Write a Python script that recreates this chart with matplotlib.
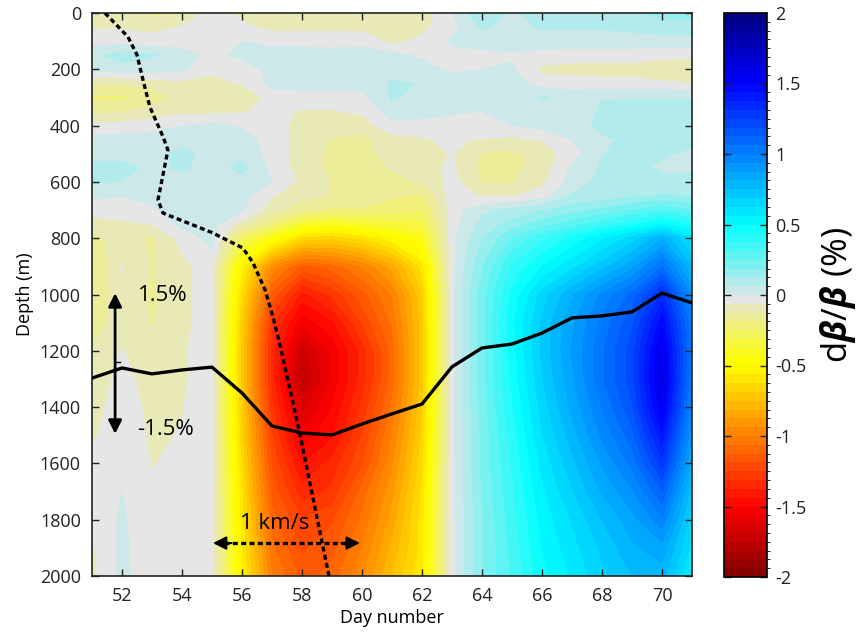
import numpy as np
import matplotlib
matplotlib.use("Agg")
import matplotlib.pyplot as plt
from matplotlib.colors import ListedColormap, BoundaryNorm

plt.rcParams['font.family'] = ['Open Sans', 'DejaVu Sans']
plt.rcParams['axes.unicode_minus'] = False
plt.rcParams['mathtext.fontset'] = 'custom'
plt.rcParams['mathtext.rm'] = 'Open Sans'
plt.rcParams['mathtext.it'] = 'Open Sans:italic'
plt.rcParams['mathtext.bf'] = 'Open Sans:bold:italic'

# ---------------- data ----------------
days = np.arange(51, 72)  # 51..71
depths = [0, 50, 100, 150, 200, 250, 300, 350, 400, 450, 500, 550, 600, 650, 700, 750,
          800, 900, 1000, 1100, 1200, 1300, 1400, 1500, 1600, 1700, 1800, 1900, 2000]

# dbeta/beta (%) field, one row per depth, columns = days 51..71
dbb = [
    [-0.09, -0.10, -0.14, -0.13, -0.03, -0.08, -0.09, -0.09, -0.13, -0.09, -0.12, -0.10, 0.00, 0.12, 0.05, 0.09, 0.09, 0.10, 0.11, 0.14, 0.14],
    [-0.07, -0.07, -0.08, -0.06, -0.03, -0.05, -0.08, -0.08, -0.08, -0.08, -0.09, -0.08, -0.02, 0.07, 0.04, 0.07, 0.07, 0.07, 0.08, 0.10, 0.10],
    [-0.02, -0.03, -0.04, -0.03, -0.02, 0.00, -0.02, -0.02, -0.03, -0.02, -0.08, -0.05, 0.01, 0.03, 0.03, 0.03, 0.03, 0.03, 0.03, 0.03, 0.03],
    [0.04, 0.10, 0.07, 0.03, -0.02, 0.02, 0.03, 0.03, 0.03, 0.03, 0.02, -0.01, -0.02, -0.02, -0.01, -0.02, -0.03, -0.03, -0.03, -0.04, -0.04],
    [0.02, 0.03, 0.03, 0.01, -0.05, -0.04, 0.02, 0.03, 0.03, 0.03, 0.03, 0.02, -0.01, 0.00, 0.01, -0.08, -0.09, -0.09, -0.09, -0.12, -0.13],
    [-0.12, -0.12, -0.10, -0.08, -0.08, -0.06, 0.02, 0.02, 0.02, 0.02, 0.07, 0.06, 0.03, 0.03, 0.03, -0.03, -0.03, -0.04, -0.04, -0.05, -0.06],
    [-0.20, -0.20, -0.17, -0.10, -0.08, -0.13, -0.03, -0.02, -0.02, -0.02, 0.07, 0.04, 0.03, 0.03, 0.03, 0.07, 0.03, 0.06, 0.06, 0.06, 0.06],
    [-0.14, -0.13, -0.10, -0.08, -0.08, -0.07, -0.04, -0.07, -0.07, -0.05, 0.03, 0.03, 0.01, 0.00, 0.02, 0.03, 0.03, 0.07, 0.08, 0.08, 0.08],
    [-0.04, -0.04, -0.03, 0.00, 0.02, -0.01, -0.04, -0.08, -0.10, -0.10, -0.02, -0.03, -0.03, 0.00, 0.00, 0.02, 0.03, 0.08, 0.08, 0.08, 0.08],
    [0.02, 0.03, 0.03, 0.04, 0.03, 0.03, -0.03, -0.09, -0.13, -0.14, -0.09, -0.07, -0.05, -0.07, -0.08, -0.06, 0.00, 0.05, 0.08, 0.08, 0.08],
    [0.04, 0.04, 0.04, 0.08, 0.04, 0.05, -0.03, -0.09, -0.14, -0.15, -0.10, -0.08, -0.06, -0.13, -0.14, -0.10, -0.03, 0.06, 0.08, 0.07, 0.05],
    [0.08, 0.08, 0.05, 0.07, 0.04, 0.08, -0.02, -0.09, -0.14, -0.15, -0.12, -0.09, -0.05, -0.14, -0.14, -0.10, 0.01, 0.07, 0.08, 0.05, 0.05],
    [0.07, 0.06, 0.03, 0.04, 0.03, 0.04, 0.00, -0.08, -0.13, -0.14, -0.14, -0.12, -0.04, -0.13, -0.13, -0.08, 0.03, 0.08, 0.08, 0.08, 0.08],
    [0.01, 0.00, 0.02, 0.03, 0.03, 0.02, -0.06, -0.10, -0.13, -0.14, -0.18, -0.20, -0.03, -0.07, -0.07, -0.03, 0.07, 0.09, 0.11, 0.13, 0.12],
    [-0.03, -0.02, -0.01, 0.03, 0.03, 0.01, -0.10, -0.17, -0.20, -0.20, -0.22, -0.25, -0.03, 0.05, 0.08, 0.12, 0.16, 0.20, 0.25, 0.30, 0.25],
    [-0.10, -0.08, -0.06, 0.02, 0.03, -0.10, -0.22, -0.38, -0.42, -0.38, -0.35, -0.33, -0.03, 0.08, 0.15, 0.22, 0.28, 0.35, 0.42, 0.50, 0.42],
    [-0.15, -0.09, -0.14, -0.04, 0.02, -0.28, -0.45, -0.65, -0.68, -0.62, -0.52, -0.42, -0.02, 0.12, 0.25, 0.35, 0.45, 0.55, 0.65, 0.80, 0.60],
    [-0.20, -0.06, -0.13, -0.08, -0.03, -0.55, -0.95, -1.15, -1.10, -1.00, -0.85, -0.60, -0.02, 0.18, 0.38, 0.50, 0.60, 0.72, 0.85, 1.05, 0.75],
    [-0.20, -0.07, -0.14, -0.08, -0.03, -0.65, -1.15, -1.40, -1.30, -1.15, -1.00, -0.70, -0.02, 0.22, 0.45, 0.65, 0.80, 0.95, 1.08, 1.33, 0.92],
    [-0.17, -0.08, -0.13, -0.08, -0.03, -0.70, -1.30, -1.55, -1.45, -1.25, -1.05, -0.72, -0.02, 0.22, 0.48, 0.70, 0.86, 1.02, 1.17, 1.48, 1.00],
    [-0.12, -0.06, -0.10, -0.07, -0.03, -0.72, -1.35, -1.70, -1.55, -1.35, -1.10, -0.72, -0.02, 0.22, 0.47, 0.70, 0.88, 1.05, 1.22, 1.57, 1.02],
    [-0.10, -0.04, -0.09, -0.07, -0.03, -0.72, -1.35, -1.75, -1.55, -1.35, -1.10, -0.72, -0.02, 0.22, 0.45, 0.68, 0.86, 1.05, 1.22, 1.60, 1.00],
    [-0.09, -0.03, -0.08, -0.065, -0.03, -0.70, -1.30, -1.65, -1.50, -1.30, -1.05, -0.70, -0.02, 0.21, 0.43, 0.65, 0.83, 1.00, 1.18, 1.55, 0.95],
    [-0.07, -0.03, -0.07, -0.06, -0.03, -0.68, -1.25, -1.55, -1.45, -1.25, -1.00, -0.68, -0.02, 0.20, 0.40, 0.62, 0.78, 0.95, 1.10, 1.42, 0.88],
    [-0.055, -0.01, -0.065, -0.05, -0.03, -0.65, -1.20, -1.45, -1.35, -1.20, -0.95, -0.65, -0.02, 0.20, 0.38, 0.58, 0.73, 0.88, 1.02, 1.28, 0.80],
    [-0.04, 0.00, -0.05, -0.04, -0.03, -0.62, -1.15, -1.35, -1.30, -1.10, -0.90, -0.62, -0.02, 0.19, 0.36, 0.55, 0.68, 0.82, 0.93, 1.12, 0.72],
    [-0.05, 0.01, -0.05, -0.03, -0.03, -0.60, -1.10, -1.25, -1.20, -1.05, -0.85, -0.60, -0.02, 0.18, 0.35, 0.52, 0.63, 0.75, 0.85, 0.98, 0.65],
    [-0.07, 0.015, -0.05, -0.03, -0.03, -0.58, -1.05, -1.20, -1.15, -1.00, -0.80, -0.60, -0.02, 0.18, 0.33, 0.50, 0.60, 0.70, 0.80, 0.85, 0.60],
    [-0.08, 0.02, -0.05, -0.03, -0.03, -0.55, -1.00, -1.15, -1.10, -0.95, -0.75, -0.58, -0.02, 0.18, 0.32, 0.48, 0.57, 0.67, 0.75, 0.78, 0.55],
]

# solid line: depth position vs day
line_days = list(range(51, 72))
line_depth = [1297, 1261, 1282, 1268, 1258, 1350, 1467, 1492, 1499, 1460, 1424,
              1389, 1257, 1190, 1176, 1137, 1083, 1076, 1062, 995, 1030]

# dashed velocity profile (x in day units, scale 1 km/s = ~4.9 days)
vel_x = [51.43, 51.75, 52.2, 52.5, 52.7, 52.93, 53.37, 53.53, 53.2, 53.37, 55.0, 56.03, 56.37, 56.77, 57.03, 57.23, 57.9, 58.9]
vel_depth = [0, 35, 85, 149, 238, 334, 440, 487, 664, 711, 780, 835, 888, 984, 1079, 1162, 1481, 2000]

cbar_ticks = [-2, -1.5, -1, -0.5, 0, 0.5, 1, 1.5, 2]
x_ticks = [52, 54, 56, 58, 60, 62, 64, 66, 68, 70]
y_ticks = [0, 200, 400, 600, 800, 1000, 1200, 1400, 1600, 1800, 2000]

# ---------------- colormap ----------------
anchors_v = [-2.0, -1.5, -0.5, -0.03125, 0.03125, 0.5, 1.5, 2.0]
anchors_c = [(0.5, 0, 0), (1, 0, 0), (1, 1, 0), (0.9, 0.9, 0.9), (0.8, 0.91, 0.91),
             (0, 1, 1), (0, 0, 1), (0, 0, 0.5)]
centers = -2 + (np.arange(64) + 0.5) * 0.0625
anc = np.array(anchors_c)
cols = np.stack([np.interp(centers, anchors_v, anc[:, k]) for k in range(3)], axis=1)
# pale yellow side slightly more saturated
for i, v in enumerate(centers):
    if -0.5 < v < -0.05:
        cols[i, 2] = max(0.0, cols[i, 2] - 0.06)
cmap = ListedColormap(cols)
levels = np.linspace(-2, 2, 65)
norm = BoundaryNorm(levels, 64)

# ---------------- figure ----------------
fig = plt.figure(figsize=(8.64, 6.33), dpi=100)
ax = fig.add_axes([92 / 864, 1 - 576 / 633, 600 / 864, 563 / 633])

Z = np.array(dbb)
cf = ax.contourf(days, depths, Z, levels=levels, cmap=cmap, norm=norm, antialiased=False)

ax.plot(line_days, line_depth, color='k', lw=2.4, zorder=5)
ax.plot(vel_x, vel_depth, color='k', lw=2.4, ls=(0, (1.5, 1.0)), zorder=5)

# vertical scale arrow
ax.annotate('', xy=(51.77, 995), xytext=(51.77, 1495),
            arrowprops=dict(arrowstyle='<|-|>', color='k', lw=2.0, mutation_scale=20,
                            shrinkA=0, shrinkB=0), zorder=6)
ax.plot([51.77, 51.95], [1240, 1240], color='k', lw=1.0, zorder=6)
ax.text(52.53, 1002, '1.5%', fontsize=16, ha='left', va='center', zorder=7)
ax.text(52.5, 1478, '-1.5%', fontsize=16, ha='left', va='center', zorder=7)

# horizontal scale arrow (1 km/s)
ax.plot([55.4, 59.55], [1883, 1883], color='k', lw=2.4, ls=(0, (1.5, 1.0)), zorder=6)
ax.annotate('', xy=(55.03, 1883), xytext=(55.65, 1883),
            arrowprops=dict(arrowstyle='-|>', color='k', lw=1.5, mutation_scale=20,
                            shrinkA=0, shrinkB=0), zorder=6)
ax.annotate('', xy=(59.93, 1883), xytext=(59.31, 1883),
            arrowprops=dict(arrowstyle='-|>', color='k', lw=1.5, mutation_scale=20,
                            shrinkA=0, shrinkB=0), zorder=6)
ax.text(57.1, 1815, '1 km/s', fontsize=16, ha='center', va='center', zorder=7)

ax.set_xlim(51, 71)
ax.set_ylim(2000, 0)
ax.set_xticks(x_ticks)
ax.set_yticks(y_ticks)
ax.tick_params(direction='in', top=True, right=True, length=5, width=1,
               labelsize=13, colors='#222222', pad=8)
for s in ax.spines.values():
    s.set_linewidth(1.2)
    s.set_color('#222222')
ax.set_xlabel('Day number', fontsize=13, labelpad=3)
ax.set_ylabel('Depth (m)', fontsize=13, labelpad=4)

cax = fig.add_axes([724 / 864, 1 - 577 / 633, 43 / 864, 564 / 633])
cb = fig.colorbar(cf, cax=cax, ticks=cbar_ticks)
cb.ax.set_yticklabels(['%g' % t for t in cbar_ticks])
cb.ax.tick_params(direction='in', left=True, right=True, length=5, width=1,
                  labelsize=13, colors='#222222', pad=6)
cb.outline.set_linewidth(1.2)
cb.set_label(r'd$\mathbf{\beta}$/$\mathbf{\beta}$ (%)', fontsize=25, labelpad=8)

fig.savefig('out.png', dpi=100)
